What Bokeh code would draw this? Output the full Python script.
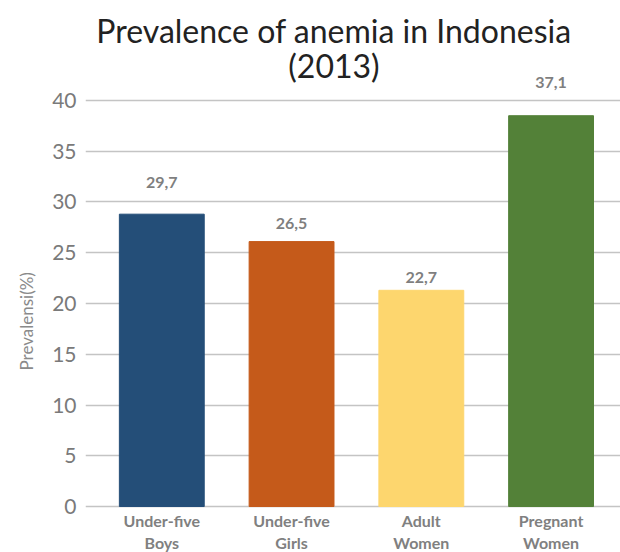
from bokeh.plotting import figure
from bokeh.models import Range1d, FixedTicker, ColumnDataSource, Label, Title
from bokeh.core.properties import value
from bokeh.embed import file_html
from bokeh.resources import INLINE

categories = ["Under-five\nBoys", "Under-five\nGirls", "Adult\nWomen", "Pregnant\nWomen"]
bar_values = [28.8, 26.1, 21.3, 38.5]
value_labels = ["29,7", "26,5", "22,7", "37,1"]
colors = ["#244e78", "#c55a1a", "#fdd66e", "#538138"]
y_ticks = [0, 5, 10, 15, 20, 25, 30, 35, 40]

FONT = "Lato"
positions = list(range(len(categories)))

src = ColumnDataSource(dict(
    x=positions, top=bar_values, color=colors, label=value_labels,
    yoff=[-32, -18, -13, -33], cat=categories, zero=[0] * len(positions),
))

p = figure(width=620, height=552, output_backend="svg", toolbar_location=None,
           x_range=Range1d(-0.588, 3.535), y_range=Range1d(-4.53, 49.85),
           min_border_left=85, min_border_right=0, min_border_top=0,
           min_border_bottom=0)
p.outline_line_color = None
p.background_fill_color = "white"
p.xaxis.visible = False

p.vbar(x="x", top="top", width=0.654, bottom=0, color="color", source=src)
p.text(x="x", y="top", text="label", y_offset="yoff", source=src,
       text_align="center", text_baseline="middle",
       text_font=value(FONT), text_font_size="16px", text_font_style="bold",
       text_color="#7f7f7f")
# category labels under the bars
p.text(x="x", y="zero", text="cat", y_offset=4, source=src,
       text_align="center", text_baseline="top", text_line_height=1.2,
       text_font=value(FONT), text_font_size="16px", text_font_style="bold",
       text_color="#808080")

# grid
p.xgrid.grid_line_color = None
p.ygrid.ticker = FixedTicker(ticks=y_ticks)
p.ygrid.grid_line_color = "#c4c4c4"
p.ygrid.grid_line_width = 1.6

# y axis
p.yaxis.ticker = FixedTicker(ticks=y_ticks)
p.yaxis.axis_line_color = None
p.yaxis.major_tick_line_color = None
p.yaxis.minor_tick_line_color = None
p.yaxis.major_label_text_font = FONT
p.yaxis.major_label_text_font_size = "21px"
p.yaxis.major_label_text_color = "#7a7a7a"
p.yaxis.major_label_standoff = 3

# y axis title
p.add_layout(Title(text="Prevalensi(%)", align="left", offset=182, standoff=26,
                   text_font=FONT, text_font_size="17px",
                   text_font_style="normal", text_color="#8a8a8a"), "left")

# chart title (two lines)
for txt, yy in [("Prevalence of anemia in Indonesia", 46.9), ("(2013)", 43.45)]:
    p.add_layout(Label(x=1.327, y=yy, text=txt, text_align="center",
                       text_baseline="middle", text_font=FONT,
                       text_font_size="32px", text_color="#222222"))

open("out.html", "w").write(file_html(p, INLINE))
